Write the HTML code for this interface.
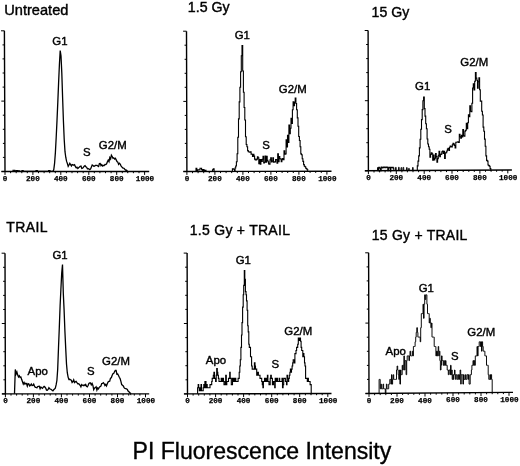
<!DOCTYPE html>
<html lang="en">
<head>
<meta charset="utf-8">
<title>PI Fluorescence Intensity</title>
<style>
html,body{margin:0;padding:0;background:#fff;}
body{width:520px;height:466px;overflow:hidden;}
svg{display:block;will-change:transform;font-family:"Liberation Sans",Arial,Helvetica,sans-serif;}
.t{font-family:"Liberation Mono","DejaVu Sans Mono",monospace;font-weight:bold;font-size:7.65px;text-anchor:middle;fill:#000;stroke:#000;stroke-width:.25px;}
.l{font-size:11.4px;text-anchor:middle;fill:#000;stroke:#000;stroke-width:.4px;}
.h{fill:#000;stroke:#000;stroke-width:.4px;}
.c{font-size:23.05px;text-anchor:middle;fill:#000;stroke:#000;stroke-width:.35px;}
</style>
</head>
<body>
<svg width="520" height="466" viewBox="0 0 520 466">
<rect width="520" height="466" fill="#fff"/>
<g><path d="M4.4 30.8L5.0 171.5M1.4 171.5L149.2 171.50" stroke="#000" stroke-width="1.4" fill="none"/><path d="M1.0 30.8H4.4M2.5 44.9H4.5M2.5 58.9H4.5M2.6 73.0H4.6M2.6 87.1H4.6M1.3 101.1H4.7M2.8 115.2H4.8M2.8 129.3H4.8M2.9 143.4H4.9M2.9 157.4H4.9M1.6 171.5H5.0M5.0 171.5v3.4M10.6 171.5v1.7M16.2 171.5v1.7M21.8 171.5v1.7M27.3 171.5v1.7M32.9 171.5v3.4M38.5 171.5v1.7M44.1 171.5v1.7M49.7 171.5v1.7M55.3 171.5v1.7M60.8 171.5v3.4M66.4 171.5v1.7M72.0 171.5v1.7M77.6 171.5v1.7M83.2 171.5v1.7M88.8 171.5v3.4M94.3 171.5v1.7M99.9 171.5v1.7M105.5 171.5v1.7M111.1 171.5v1.7M116.7 171.5v3.4M122.3 171.5v1.7M127.8 171.5v1.7M133.4 171.5v1.7M139.0 171.5v1.7M144.6 171.5v3.4" stroke="#000" stroke-width="1" fill="none"/><text x="5.1" y="181.0" class="t">0</text><text x="32.9" y="181.0" class="t">200</text><text x="60.8" y="181.0" class="t">400</text><text x="88.8" y="181.0" class="t">600</text><text x="116.7" y="181.0" class="t">800</text><text x="145.0" y="181.0" class="t">1000</text><path d="M13.0 171.3L13.8 171.3L14.6 171.3L15.4 171.3L16.2 171.3L17.0 171.3L17.8 171.3L18.6 171.3L19.4 171.3L20.2 171.3L21.0 171.3L21.8 171.3L22.6 171.3L23.4 171.3L24.2 171.3L25.0 171.3L25.8 171.3L26.6 171.3L27.4 171.3L28.2 171.3L29.0 171.3L29.8 171.3L30.6 171.3L31.4 171.3L32.2 171.3L33.0 171.3L33.8 171.3L34.6 171.3L35.4 171.3L36.2 171.3L37.0 171.3L37.8 171.3L38.6 171.3L39.4 171.3L40.2 171.3L41.0 171.3L41.8 171.3L42.6 171.3L43.4 171.3L44.2 171.3L45.0 171.3L45.8 171.3L46.6 171.3L47.4 171.3L48.2 171.3L49.0 171.3L49.8 171.3L50.6 171.3L51.4 171.3L52.2 171.3L53.0 171.3L53.8 169.5L54.6 163.1L55.4 152.4L56.2 137.3L57.0 120.6L57.8 102.4L58.6 82.9L59.4 64.8L60.2 50.5L61.0 55.9L61.8 72.9L62.6 97.5L63.4 120.4L64.2 139.2L65.0 151.7L65.8 157.5L66.6 161.4L67.4 163.5L68.2 166.4L69.0 165.0L69.8 163.4L70.6 164.6L71.4 165.9L72.2 164.6L73.0 164.8L73.8 165.3L74.6 164.7L75.4 166.7L76.2 167.8L77.0 167.2L77.8 168.5L78.6 167.7L79.4 167.1L80.2 166.4L81.0 166.1L81.8 168.4L82.6 168.1L83.4 167.4L84.2 166.2L85.0 165.6L85.8 166.7L86.6 167.2L87.4 168.7L88.2 168.6L89.0 169.0L89.8 169.7L90.6 168.9L91.4 166.9L92.2 165.0L93.0 165.5L93.8 166.2L94.6 166.1L95.4 165.4L96.2 165.3L97.0 165.4L97.8 166.1L98.6 166.6L99.4 163.6L100.2 163.4L101.0 165.7L101.8 164.7L102.6 166.1L103.4 165.4L104.2 165.5L105.0 164.4L105.8 164.6L106.6 163.8L107.4 161.8L108.2 160.2L109.0 161.6L109.8 157.6L110.6 159.0L111.4 155.2L112.2 156.5L113.0 158.3L113.8 157.8L114.6 159.0L115.4 158.3L116.2 159.9L117.0 161.6L117.8 162.1L118.6 164.4L119.4 163.2L120.2 164.0L121.0 165.8L121.8 166.9L122.6 167.8L123.4 168.0L124.2 168.5L125.0 169.6L125.8 170.2L126.6 170.1L127.4 171.3L127.5 170.6" stroke="#000" stroke-width="1.3" fill="none" stroke-linejoin="miter"/><path d="M13.0 171.5V170.2h0.9V170.2h0.9V171.5h0.9V170.9h0.9V170.5h0.9V170.8h0.9V170.9h0.9V171.5M22.0 171.5V170.5h1.2V171.5h1.2V171.5h1.2V171.5h1.2V171.5h1.2V171.5h1.2V171.5h1.2V171.5M36.0 171.5V170.6h1.4V171.5h1.4V171.5h1.4V171.5h1.4V171.5h1.4V171.5h1.4V171.5h1.4V171.5h1.4V171.5h1.4V170.5h1.4V171.5h1.4V171.5h1.4V171.5h1.4V171.5" stroke="#000" stroke-width="1.1" fill="none"/><text x="59.9" y="44.5" class="l">G1</text><text x="86.7" y="156.0" class="l">S</text><text x="112.7" y="149.0" class="l">G2/M</text><text x="4.3" y="15" class="h" font-size="14.6">Untreated</text></g>
<g><path d="M186.5 31.2L186.9 171.5M183.3 171.5L331.5 171.19" stroke="#000" stroke-width="1.4" fill="none"/><path d="M183.1 31.2H186.5M184.5 45.2H186.5M184.6 59.3H186.6M184.6 73.3H186.6M184.7 87.3H186.7M183.3 101.4H186.7M184.7 115.4H186.7M184.8 129.4H186.8M184.8 143.4H186.8M184.9 157.5H186.9M183.5 171.5H186.9M186.9 171.5v3.4M192.5 171.5v1.7M198.1 171.5v1.7M203.7 171.5v1.7M209.3 171.5v1.7M214.9 171.4v3.4M220.5 171.4v1.7M226.1 171.4v1.7M231.7 171.4v1.7M237.3 171.4v1.7M242.9 171.4v3.4M248.5 171.4v1.7M254.1 171.4v1.7M259.7 171.3v1.7M265.3 171.3v1.7M270.9 171.3v3.4M276.5 171.3v1.7M282.1 171.3v1.7M287.7 171.3v1.7M293.3 171.3v1.7M298.9 171.3v3.4M304.5 171.2v1.7M310.1 171.2v1.7M315.7 171.2v1.7M321.3 171.2v1.7M326.9 171.2v3.4" stroke="#000" stroke-width="1" fill="none"/><text x="187.0" y="181.0" class="t">0</text><text x="214.9" y="180.9" class="t">200</text><text x="242.9" y="180.9" class="t">400</text><text x="270.9" y="180.8" class="t">600</text><text x="298.9" y="180.8" class="t">800</text><text x="327.3" y="180.7" class="t">1000</text><path d="M235.0 171.3V168.0H235.7V166.0H236.4V161.7H237.1V153.7H237.8V137.3H238.5V118.9H239.2V101.9H239.9V87.3H240.6V71.7H241.3V55.7H242.0V45.5H242.7V71.0H243.4V92.2H244.1V107.5H244.8V120.0H245.5V136.7H246.2V144.5H246.9V146.8H247.6V150.6H248.3V151.7H249.0V152.0H249.7V152.2H250.4V151.9H251.1V154.1H251.8V154.3H252.5V156.5H253.2V154.2H253.9V156.1H254.6V159.1H255.3V159.9H256.0V160.0H256.7V159.1H257.4V156.7H258.1V157.9H258.8V163.6H259.5V159.6H260.2V164.3H260.9V159.5H261.6V161.4H262.3V159.2H263.0V156.4H263.7V162.9H264.4V162.3H265.1V156.1H265.8V162.1H266.5V156.2H267.2V160.4H267.9V161.7H268.6V163.9H269.3V164.3H270.0V159.9H270.7V157.9H271.4V161.9H272.1V161.1H272.8V157.8H273.5V162.1H274.2V161.7H274.9V162.0H275.6V159.5H276.3V159.8H277.0V163.1H277.7V153.9H278.4V161.6H279.1V156.5H279.8V158.7H280.5V158.9H281.2V161.7H281.9V159.8H282.6V158.5H283.3V159.8H284.0V150.9H284.7V154.2H285.4V153.9H286.1V139.9H286.8V146.9H287.5V135.3H288.2V142.5H288.9V125.1H289.6V133.8H290.3V128.2H291.0V118.3H291.7V123.5H292.4V109.8H293.1V101.8H293.8V105.8H294.5V102.3H295.2V98.0H295.9V103.5H296.6V109.7H297.3V117.9H298.0V126.2H298.7V136.5H299.4V140.5H300.1V146.8H300.8V153.9H301.5V154.7H302.2V158.8H302.9V161.4H303.6V164.6H304.3V166.3H305.0V166.8H305.7V168.2H306.4V168.8H307.1V169.7H307.8V170.5H308.0" stroke="#000" stroke-width="1.1" fill="none" stroke-linejoin="miter"/><path d="M196.0 171.5V168.3h0.8V171.5h0.8V169.9h0.8V169.9h0.8V169.7h0.8V168.2h0.8V168.2h0.8V169.6h0.8V171.5M203.0 171.5V169.5h1.0V171.5h1.0V170.3h1.0V171.5h1.0V171.5M212.5 171.5V169.8h0.8V168.9h0.8V171.5M228.0 171.5V171.5h1.1V171.5h1.1V171.5h1.1V171.5h1.1V168.8h1.1V169.3h1.1V171.5" stroke="#000" stroke-width="1.1" fill="none"/><text x="242.3" y="38.5" class="l">G1</text><text x="266" y="148.5" class="l">S</text><text x="292.7" y="92.5" class="l">G2/M</text><text x="187.8" y="12.4" class="h" font-size="14.2">1.5 Gy</text></g>
<g><path d="M368.1 30.5L368.4 170.8M364.8 170.8L511.9 169.98" stroke="#000" stroke-width="1.4" fill="none"/><path d="M364.7 30.5H368.1M366.1 44.5H368.1M366.2 58.6H368.2M366.2 72.6H368.2M366.2 86.6H368.2M364.9 100.7H368.2M366.3 114.7H368.3M366.3 128.7H368.3M366.3 142.7H368.3M366.4 156.8H368.4M365.0 170.8H368.4M368.4 170.8v3.4M374.0 170.8v1.7M379.6 170.7v1.7M385.1 170.7v1.7M390.7 170.7v1.7M396.3 170.6v3.4M401.9 170.6v1.7M407.4 170.6v1.7M413.0 170.5v1.7M418.6 170.5v1.7M424.2 170.5v3.4M429.7 170.4v1.7M435.3 170.4v1.7M440.9 170.4v1.7M446.5 170.4v1.7M452.0 170.3v3.4M457.6 170.3v1.7M463.2 170.3v1.7M468.8 170.2v1.7M474.3 170.2v1.7M479.9 170.2v3.4M485.5 170.1v1.7M491.1 170.1v1.7M496.6 170.1v1.7M502.2 170.0v1.7M507.8 170.0v3.4" stroke="#000" stroke-width="1" fill="none"/><text x="368.5" y="180.3" class="t">0</text><text x="396.3" y="180.1" class="t">200</text><text x="424.2" y="180.0" class="t">400</text><text x="452.0" y="179.8" class="t">600</text><text x="479.9" y="179.7" class="t">800</text><text x="508.2" y="179.5" class="t">1000</text><path d="M417.3 170.6V165.9H418.0V161.1H418.7V155.9H419.4V147.9H420.1V139.3H420.8V129.3H421.5V119.6H422.2V109.6H422.9V100.8H423.6V97.0H424.3V108.6H425.0V116.1H425.7V123.8H426.4V128.7H427.1V139.0H427.8V144.0H428.5V146.7H429.2V149.3H429.9V157.1H430.6V154.4H431.3V152.7H432.0V153.7H432.7V160.2H433.4V155.1H434.1V160.0H434.8V158.3H435.5V153.6H436.2V156.6H436.9V162.3H437.6V158.6H438.3V155.3H439.0V151.2H439.7V156.8H440.4V154.4H441.1V154.1H441.8V151.7H442.5V151.0H443.2V153.4H443.9V151.3H444.6V158.4H445.3V152.9H446.0V152.8H446.7V151.0H447.4V149.1H448.1V148.3H448.8V150.5H449.5V147.3H450.2V146.1H450.9V146.5H451.6V146.9H452.3V144.9H453.0V143.2H453.7V144.1H454.4V145.5H455.1V148.0H455.8V142.3H456.5V142.2H457.2V142.0H457.9V141.9H458.6V142.4H459.3V134.2H460.0V136.8H460.7V138.1H461.4V135.2H462.1V136.9H462.8V129.5H463.5V135.8H464.2V136.2H464.9V131.1H465.6V130.2H466.3V123.3H467.0V128.7H467.7V122.7H468.4V114.8H469.1V116.7H469.8V105.7H470.5V111.2H471.2V111.7H471.9V103.2H472.6V88.0H473.3V83.9H474.0V90.0H474.7V81.3H475.4V72.5H476.1V78.1H476.8V80.3H477.5V88.2H478.2V81.7H478.9V77.8H479.6V89.7H480.3V101.1H481.0V101.0H481.7V111.2H482.4V115.0H483.1V127.1H483.8V131.3H484.5V139.1H485.2V146.2H485.9V155.9H486.6V160.4H487.3V161.1H488.0V165.0H488.7V165.6H489.4V166.3H490.1V168.5H490.8V170.5H491.3" stroke="#000" stroke-width="1.1" fill="none" stroke-linejoin="miter"/><path d="M377.6 170.8V167.8h0.6V170.8h0.6V167.4h0.6V168.0h0.6V168.1h0.6V170.8h0.6V167.1h0.6V167.4h0.6V167.9h0.6V167.4h0.6V167.1h0.6V167.0h0.6V167.7h0.6V167.8h0.6V167.1h0.6V167.1h0.6V167.4h0.6V170.8h0.6V168.0h0.6V167.4h0.6V167.3h0.6V170.8h0.6V167.3h0.6V167.6h0.6V167.6h0.6V167.2h0.6V168.1h0.6V170.8" stroke="#000" stroke-width="1.1" fill="none"/><path d="M395.5 170.6v-3.2h0.7v3.2M398.5 170.6v-3.3h0.7v3.3M401.0 170.6v-3.0h0.7v3.0M403.0 170.6v-3.2h0.7v3.2M406.5 170.6v-3.0h0.7v3.0M408.6 170.6v-2.2h0.7v2.2M412.5 170.5v-3.0h0.7v3.0" stroke="#000" stroke-width="0.9" fill="none"/><text x="422.7" y="90.0" class="l">G1</text><text x="448" y="132.5" class="l">S</text><text x="474.3" y="65.5" class="l">G2/M</text><text x="371.6" y="17.1" class="h" font-size="14.1">15 Gy</text></g>
<g><path d="M5.0 253.2L5.4 393.9M1.8 393.9L149.2 393.90" stroke="#000" stroke-width="1.4" fill="none"/><path d="M1.6 253.2H5.0M3.0 267.3H5.0M3.1 281.3H5.1M3.1 295.4H5.1M3.2 309.5H5.2M1.8 323.5H5.2M3.2 337.6H5.2M3.3 351.7H5.3M3.3 365.8H5.3M3.4 379.8H5.4M2.0 393.9H5.4M5.4 393.9v3.4M11.0 393.9v1.7M16.6 393.9v1.7M22.2 393.9v1.7M27.8 393.9v1.7M33.4 393.9v3.4M39.0 393.9v1.7M44.6 393.9v1.7M50.2 393.9v1.7M55.8 393.9v1.7M61.4 393.9v3.4M67.0 393.9v1.7M72.6 393.9v1.7M78.3 393.9v1.7M83.9 393.9v1.7M89.5 393.9v3.4M95.1 393.9v1.7M100.7 393.9v1.7M106.3 393.9v1.7M111.9 393.9v1.7M117.5 393.9v3.4M123.1 393.9v1.7M128.7 393.9v1.7M134.3 393.9v1.7M139.9 393.9v1.7M145.5 393.9v3.4" stroke="#000" stroke-width="1" fill="none"/><text x="5.5" y="403.4" class="t">0</text><text x="33.4" y="403.4" class="t">200</text><text x="61.4" y="403.4" class="t">400</text><text x="89.5" y="403.4" class="t">600</text><text x="117.5" y="403.4" class="t">800</text><text x="145.9" y="403.4" class="t">1000</text><path d="M14.5 393.7L15.3 369.4L16.1 374.0L16.9 372.0L17.7 375.1L18.5 376.9L19.3 375.8L20.1 377.4L20.9 377.1L21.7 379.6L22.5 381.7L23.3 384.1L24.1 382.5L24.9 384.2L25.7 383.3L26.5 383.5L27.3 386.1L28.1 383.7L28.9 384.0L29.7 386.0L30.5 385.3L31.3 384.0L32.1 385.5L32.9 385.4L33.7 384.1L34.5 386.1L35.3 387.3L36.1 387.3L36.9 387.9L37.7 386.5L38.5 386.4L39.3 386.3L40.1 388.7L40.9 387.0L41.7 387.7L42.5 388.3L43.3 387.1L44.1 386.4L44.9 387.0L45.7 388.1L46.5 390.1L47.3 390.3L48.1 389.5L48.9 387.7L49.7 388.7L50.5 389.2L51.3 389.5L52.1 390.3L52.9 390.9L53.7 389.8L54.5 389.1L55.3 388.2L56.1 384.9L56.9 380.5L57.7 369.1L58.5 347.8L59.3 327.8L60.1 306.1L60.9 289.2L61.7 273.4L62.5 264.5L63.3 293.2L64.1 310.1L64.9 330.9L65.7 348.1L66.5 364.0L67.3 372.7L68.1 377.1L68.9 379.5L69.7 379.3L70.5 379.8L71.3 380.3L72.1 382.5L72.9 381.6L73.7 379.9L74.5 382.5L75.3 381.8L76.1 381.4L76.9 382.5L77.7 383.8L78.5 383.6L79.3 384.3L80.1 385.3L80.9 386.8L81.7 384.6L82.5 385.3L83.3 385.7L84.1 384.8L84.9 385.5L85.7 384.5L86.5 386.3L87.3 386.9L88.1 385.5L88.9 383.4L89.7 382.9L90.5 382.9L91.3 384.8L92.1 383.4L92.9 385.4L93.7 389.6L94.5 388.1L95.3 387.6L96.1 386.8L96.9 390.1L97.7 388.0L98.5 388.8L99.3 387.3L100.1 386.6L100.9 386.1L101.7 383.5L102.5 383.4L103.3 382.6L104.1 383.6L104.9 385.5L105.7 384.5L106.5 386.0L107.3 383.7L108.1 381.9L108.9 381.4L109.7 381.2L110.5 378.2L111.3 377.7L112.1 375.5L112.9 373.7L113.7 373.5L114.5 371.7L115.3 370.3L116.1 370.3L116.9 374.2L117.7 374.0L118.5 375.5L119.3 377.3L120.1 378.6L120.9 381.3L121.7 384.6L122.5 385.3L123.3 386.0L124.1 387.6L124.9 388.5L125.7 388.6L126.5 388.8L127.3 389.4L128.1 391.1L128.9 391.7L129.7 392.5L130.5 393.7L130.5 392.8" stroke="#000" stroke-width="1.3" fill="none" stroke-linejoin="miter"/><text x="60" y="259.0" class="l">G1</text><text x="37.7" y="375.0" class="l">Apo</text><text x="90.7" y="375.0" class="l">S</text><text x="116" y="364.5" class="l">G2/M</text><text x="6.2" y="232" class="h" font-size="14" letter-spacing="0.4">TRAIL</text></g>
<g><path d="M187.1 253.1L187.5 393.9M183.9 393.9L331.5 393.49" stroke="#000" stroke-width="1.4" fill="none"/><path d="M183.7 253.1H187.1M185.1 267.2H187.1M185.2 281.3H187.2M185.2 295.3H187.2M185.3 309.4H187.3M183.9 323.5H187.3M185.3 337.6H187.3M185.4 351.7H187.4M185.4 365.7H187.4M185.5 379.8H187.5M184.1 393.9H187.5M187.5 393.9v3.4M193.1 393.9v1.7M198.7 393.9v1.7M204.3 393.9v1.7M209.9 393.8v1.7M215.6 393.8v3.4M221.2 393.8v1.7M226.8 393.8v1.7M232.4 393.8v1.7M238.0 393.8v1.7M243.6 393.7v3.4M249.2 393.7v1.7M254.8 393.7v1.7M260.5 393.7v1.7M266.1 393.7v1.7M271.7 393.7v3.4M277.3 393.6v1.7M282.9 393.6v1.7M288.5 393.6v1.7M294.1 393.6v1.7M299.7 393.6v3.4M305.4 393.6v1.7M311.0 393.5v1.7M316.6 393.5v1.7M322.2 393.5v1.7M327.8 393.5v3.4" stroke="#000" stroke-width="1" fill="none"/><text x="187.6" y="403.4" class="t">0</text><text x="215.6" y="403.3" class="t">200</text><text x="243.6" y="403.2" class="t">400</text><text x="271.7" y="403.2" class="t">600</text><text x="299.7" y="403.1" class="t">800</text><text x="328.2" y="403.0" class="t">1000</text><path d="M197.6 393.7V387.7H198.2V384.6H198.7V387.7H199.3V390.8H199.8V390.8H200.4V387.7H201.0V384.6H201.5V390.8H202.1V390.8H202.7V390.8H203.2V387.7H203.8V384.6H204.3V387.7H204.9V381.5H205.5V381.5H206.0V387.7H206.6V384.6H207.2V387.7H207.7V387.7H208.3V387.7H208.8V387.7H209.4V387.7H210.0V384.6H210.5V384.6H211.1V384.6H211.7V381.5H212.2V378.4H212.8V378.4H213.3V375.3H213.9V372.2H214.5V378.4H215.0V378.4H215.6V381.5H216.2V375.3H216.7V368.5H217.3V372.2H217.8V375.3H218.4V378.4H219.0V381.5H219.5V381.5H220.1V381.5H220.7V381.5H221.2V378.4H221.8V381.5H222.3V381.5H222.9V378.4H223.5V381.5H224.0V384.6H224.6V384.6H225.2V381.5H225.7V375.3H226.3V384.6H226.8V381.5H227.4V381.5H228.0V381.5H228.5V378.4H229.1V378.4H229.7V372.2H230.2V378.4H230.8V378.4H231.3V384.6H231.9V384.6H232.5V378.4H233.0V381.5H233.6V378.4H234.2V378.4H234.7V381.5H235.3V378.4H235.8V381.5H236.4V381.5H237.0V381.5H237.5V381.5H238.1V378.4H238.7V378.4H239.2V372.2H239.8V366.0H240.3V359.8H240.9V347.4H241.5V335.0H242.0V322.6H242.6V307.1H243.2V294.7H243.7V285.4H244.3V270.5H244.8V279.2H245.4V291.6H246.0V294.7H246.5V300.9H247.1V310.2H247.7V325.7H248.2V331.9H248.8V344.3H249.3V347.4H249.9V347.4H250.5V356.7H251.0V356.7H251.6V366.0H252.2V369.1H252.7V369.1H253.3V369.1H253.8V369.1H254.4V362.9H255.0V366.0H255.5V369.1H256.1V369.1H256.7V375.3H257.2V375.3H257.8V372.2H258.4V375.3H258.9V375.3H259.5V375.3H260.0V378.4H260.6V378.4H261.2V378.4H261.7V381.5H262.3V384.6H262.9V387.7H263.4V381.5H264.0V381.5H264.5V378.4H265.1V381.5H265.7V378.4H266.2V378.4H266.8V381.5H267.4V375.3H267.9V381.5H268.5V381.5H269.0V384.6H269.6V384.6H270.2V378.4H270.7V375.3H271.3V378.4H271.9V378.4H272.4V384.6H273.0V384.6H273.5V381.5H274.1V381.5H274.7V387.7H275.2V378.4H275.8V381.5H276.4V381.5H276.9V378.4H277.5V381.5H278.0V381.5H278.6V381.5H279.2V378.4H279.7V381.5H280.3V381.5H280.9V381.5H281.4V381.5H282.0V378.4H282.5V387.7H283.1V384.6H283.7V378.4H284.2V378.4H284.8V378.4H285.4V381.5H285.9V381.5H286.5V384.6H287.0V375.3H287.6V378.4H288.2V381.5H288.7V378.4H289.3V375.3H289.9V372.2H290.4V369.1H291.0V372.2H291.5V369.1H292.1V366.0H292.7V362.9H293.2V359.8H293.8V359.8H294.4V362.9H294.9V353.6H295.5V353.6H296.0V350.5H296.6V347.4H297.2V347.4H297.7V344.3H298.3V338.1H298.9V340.5H299.4V338.1H300.0V338.1H300.5V341.2H301.1V347.4H301.7V350.5H302.2V350.5H302.8V356.7H303.4V353.6H303.9V356.7H304.5V362.9H305.0V366.0H305.6V378.4H306.2V378.4H306.7V378.4H307.3V381.5H307.9V378.4H308.4V381.5H309.0V381.5H309.5V381.5H310.1V384.6H310.7V384.6H311.2V393.7H311.5" stroke="#000" stroke-width="1.1" fill="none" stroke-linejoin="miter"/><text x="243.3" y="264.0" class="l">G1</text><text x="216" y="363.5" class="l">Apo</text><text x="275.3" y="367.5" class="l">S</text><text x="298.3" y="334.5" class="l">G2/M</text><text x="189.8" y="235" class="h" font-size="14" letter-spacing="0.27">1.5 Gy + TRAIL</text></g>
<g><path d="M368.6 252.8L369.0 393.5M365.4 393.5L513.0 392.37" stroke="#000" stroke-width="1.4" fill="none"/><path d="M365.2 252.8H368.6M366.6 266.9H368.6M366.7 280.9H368.7M366.7 295.0H368.7M366.8 309.1H368.8M365.4 323.1H368.8M366.8 337.2H368.8M366.9 351.3H368.9M366.9 365.4H368.9M367.0 379.4H369.0M365.6 393.5H369.0M369.0 393.5v3.4M374.6 393.5v1.7M380.2 393.4v1.7M385.8 393.4v1.7M391.4 393.3v1.7M397.0 393.3v3.4M402.6 393.2v1.7M408.2 393.2v1.7M413.8 393.1v1.7M419.4 393.1v1.7M425.0 393.1v3.4M430.6 393.0v1.7M436.2 393.0v1.7M441.8 392.9v1.7M447.4 392.9v1.7M453.0 392.8v3.4M458.6 392.8v1.7M464.2 392.8v1.7M469.8 392.7v1.7M475.4 392.7v1.7M481.0 392.6v3.4M486.6 392.6v1.7M492.2 392.5v1.7M497.8 392.5v1.7M503.4 392.4v1.7M509.0 392.4v3.4" stroke="#000" stroke-width="1" fill="none"/><text x="369.1" y="403.0" class="t">0</text><text x="397.0" y="402.8" class="t">200</text><text x="425.0" y="402.6" class="t">400</text><text x="453.0" y="402.3" class="t">600</text><text x="481.0" y="402.1" class="t">800</text><text x="509.4" y="401.9" class="t">1000</text><path d="M379.1 393.3V379.4H379.7V379.4H380.2V388.8H380.8V384.1H381.4V388.8H381.9V388.8H382.5V388.8H383.0V384.1H383.6V388.8H384.2V388.8H384.7V388.8H385.3V393.3H385.9V388.8H386.4V384.1H387.0V388.8H387.5V388.8H388.1V388.8H388.7V384.1H389.2V384.1H389.8V379.4H390.4V379.4H390.9V384.1H391.5V374.7H392.0V384.1H392.6V379.4H393.2V374.7H393.7V379.4H394.3V379.4H394.9V379.4H395.4V379.4H396.0V379.4H396.5V370.0H397.1V366.0H397.7V370.0H398.2V374.7H398.8V379.4H399.4V370.0H399.9V384.1H400.5V370.0H401.0V374.7H401.6V374.7H402.2V365.3H402.7V370.0H403.3V365.3H403.9V355.9H404.4V370.0H405.0V360.6H405.5V360.6H406.1V374.7H406.7V360.6H407.2V355.9H407.8V355.9H408.4V355.9H408.9V360.6H409.5V355.9H410.0V351.2H410.6V355.9H411.2V355.9H411.7V355.9H412.3V351.2H412.9V355.9H413.4V346.5H414.0V346.5H414.5V346.5H415.1V341.8H415.7V337.1H416.2V332.4H416.8V327.7H417.4V332.4H417.9V337.1H418.5V337.1H419.0V337.1H419.6V337.1H420.2V341.8H420.7V327.7H421.3V313.6H421.9V313.6H422.4V313.6H423.0V304.2H423.5V318.3H424.1V304.2H424.7V294.8H425.2V299.5H425.8V294.8H426.4V294.8H426.9V304.2H427.5V313.6H428.0V313.6H428.6V313.6H429.2V323.0H429.7V318.3H430.3V323.0H430.9V327.7H431.4V323.0H432.0V337.1H432.5V337.1H433.1V337.1H433.7V337.1H434.2V346.5H434.8V346.5H435.4V346.5H435.9V355.9H436.5V351.2H437.0V355.9H437.6V351.2H438.2V346.5H438.7V355.9H439.3V351.2H439.9V360.6H440.4V370.0H441.0V365.3H441.5V355.9H442.1V360.6H442.7V360.6H443.2V365.3H443.8V360.6H444.4V365.3H444.9V365.3H445.5V360.6H446.0V365.3H446.6V365.3H447.2V370.0H447.7V370.0H448.3V374.7H448.9V370.0H449.4V370.0H450.0V374.7H450.5V365.3H451.1V374.7H451.7V370.0H452.2V379.4H452.8V374.7H453.4V379.4H453.9V374.7H454.5V370.0H455.0V374.7H455.6V379.4H456.2V374.7H456.7V374.7H457.3V379.4H457.9V379.4H458.4V374.7H459.0V379.4H459.5V374.7H460.1V370.0H460.7V384.1H461.2V374.7H461.8V374.7H462.4V374.7H462.9V384.1H463.5V374.7H464.0V379.4H464.6V379.4H465.2V374.7H465.7V379.4H466.3V379.4H466.9V374.7H467.4V374.7H468.0V379.4H468.5V374.7H469.1V384.1H469.7V384.1H470.2V374.7H470.8V374.7H471.4V370.0H471.9V365.3H472.5V365.3H473.0V360.6H473.6V365.3H474.2V360.6H474.7V365.3H475.3V355.9H475.9V355.9H476.4V355.9H477.0V346.5H477.5V355.9H478.1V346.5H478.7V346.5H479.2V341.8H479.8V341.8H480.4V346.5H480.9V341.8H481.5V351.2H482.0V341.8H482.6V346.5H483.2V351.2H483.7V351.2H484.3V351.2H484.9V355.9H485.4V355.9H486.0V355.9H486.5V365.3H487.1V365.3H487.7V365.3H488.2V374.7H488.8V379.4H489.4V379.4H489.9V374.7H490.5V379.4H491.0V374.7H491.6V379.4H492.2V392.6H492.3" stroke="#000" stroke-width="0.95" fill="none" stroke-linejoin="miter"/><text x="426.3" y="291.5" class="l">G1</text><text x="395.7" y="355.0" class="l">Apo</text><text x="454.7" y="360.0" class="l">S</text><text x="481.3" y="336.0" class="l">G2/M</text><text x="371.8" y="239.6" class="h" font-size="14" letter-spacing="0.23">15 Gy + TRAIL</text></g>
<text x="261.9" y="458.5" class="c">PI Fluorescence Intensity</text>
</svg>
</body>
</html>
